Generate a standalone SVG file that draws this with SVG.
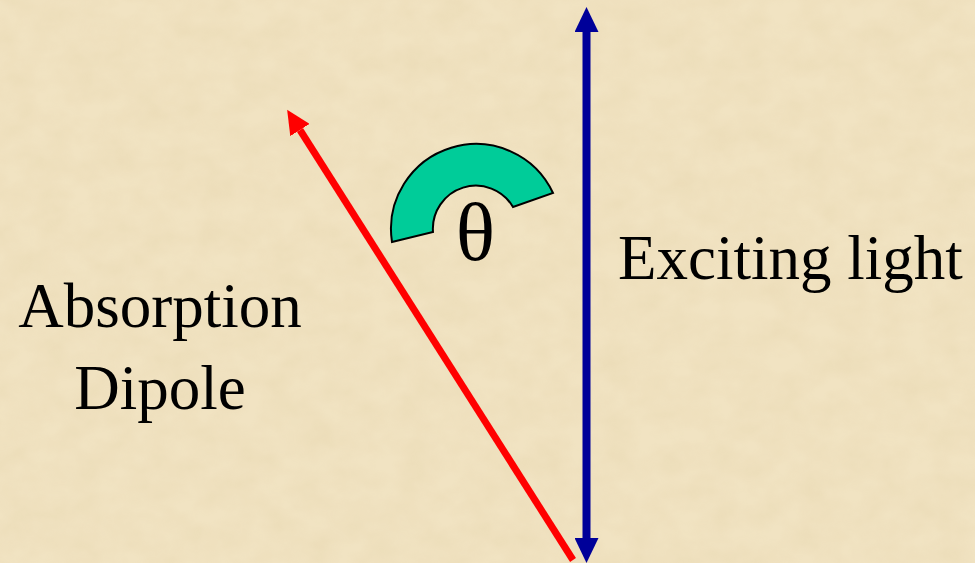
<svg xmlns="http://www.w3.org/2000/svg" width="975" height="563" viewBox="0 0 975 563">
  <style>
    .lbl { font-family: "Liberation Serif", "Times New Roman", serif; font-size: 63px; fill: #000000; }
    .blue { stroke: #000099; stroke-width: 8; fill: none; }
    .red { stroke: #FF0000; stroke-width: 7; fill: none; }
  </style>
  <defs>
    <marker id="headBlue" viewBox="0 0 25 24" refX="0" refY="12" markerWidth="25" markerHeight="24" markerUnits="userSpaceOnUse" orient="auto-start-reverse">
      <path d="M0,0 L25,12 L0,24 Z" fill="#000099"/>
    </marker>
    <marker id="headRed" viewBox="0 0 24 23" refX="0" refY="11.5" markerWidth="24" markerHeight="23" markerUnits="userSpaceOnUse" orient="auto">
      <path d="M0,0 L24,11.5 L0,23 Z" fill="#FF0000"/>
    </marker>
    <filter id="paper" x="0" y="0" width="100%" height="100%">
      <feTurbulence type="fractalNoise" baseFrequency="0.03 0.04" numOctaves="3" seed="7" result="n"/>
      <feColorMatrix in="n" type="matrix" values="0 0 0 0 0.6  0 0 0 0 0.45  0 0 0 0 0.2  0 0 0 0.6 -0.15"/>
    </filter>
  </defs>
  <g id="background">
    <rect x="0" y="0" width="975" height="563" fill="#F1E3C2"/>
    <rect x="0" y="0" width="975" height="563" filter="url(#paper)" opacity="0.3"/>
  </g>
  <g id="connectors">
    <line id="exciting-light-arrow" class="blue" x1="586.5" y1="32" x2="586.5" y2="538" marker-start="url(#headBlue)" marker-end="url(#headBlue)"/>
    <line id="dipole-arrow" class="red" x1="573" y1="560" x2="300" y2="130" marker-end="url(#headRed)"/>
  </g>
  <g id="angle-arc">
    <path d="M392,242 A85,85 0 0 1 553,193 L513,207 A43,43 0 0 0 433,232 Z" fill="#00CC99" stroke="#000000" stroke-width="2" stroke-linejoin="miter"/>
  </g>
  <g id="theta">
    <text class="lbl" x="475.5" y="260" text-anchor="middle" style="font-size:82px">θ</text>
  </g>
  <g id="exciting-light-label">
    <text class="lbl" x="618" y="279">Exciting light</text>
  </g>
  <g id="absorption-dipole-label">
    <text class="lbl" x="160" y="327" text-anchor="middle">Absorption</text>
    <text class="lbl" x="160" y="409" text-anchor="middle">Dipole</text>
  </g>
</svg>
